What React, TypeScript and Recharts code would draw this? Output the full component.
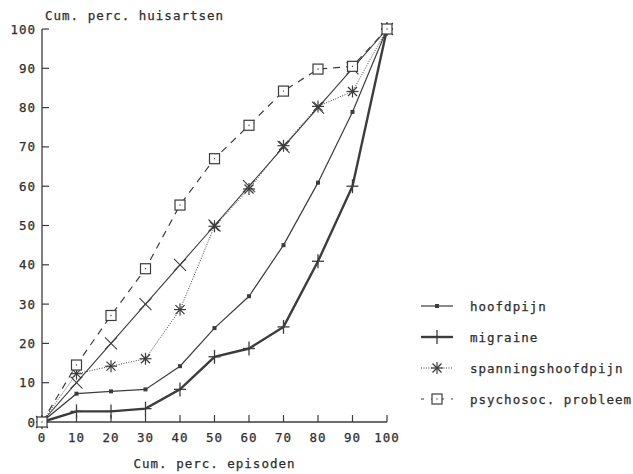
import React from 'react';
import { LineChart, Line, XAxis, YAxis } from 'recharts';

const episoden = [0, 10, 20, 30, 40, 50, 60, 70, 80, 90, 100];
const hoofdpijn = [0, 7.2, 7.8, 8.3, 14.2, 23.9, 32, 45, 60.9, 78.9, 100];
const migraine = [0, 2.7, 2.7, 3.4, 8.3, 16.6, 18.7, 24.2, 40.9, 60, 100];
const spanningshoofdpijn = [0, 12.3, 14.2, 16.1, 28.6, 49.8, 59.3, 70.3, 80.3, 84.1, 100];
const psychosoc = [0, 14.5, 27.1, 39.0, 55.2, 67.0, 75.5, 84.2, 89.8, 90.5, 100];
const gelijk = [0, 10, 20, 30, 40, 50, 60, 70, 80, 90, 100];
const xTicks = [0, 10, 20, 30, 40, 50, 60, 70, 80, 90, 100];
const yTicks = [0, 10, 20, 30, 40, 50, 60, 70, 80, 90, 100];

const data = episoden.map((x, i) => ({
  x,
  hoofdpijn: hoofdpijn[i],
  migraine: migraine[i],
  spanningshoofdpijn: spanningshoofdpijn[i],
  psychosoc: psychosoc[i],
  gelijk: gelijk[i],
}));

const INK = '#3c3c3c';
const TXT = '#2e2e2e';
const FONT = "'DejaVu Sans Mono', monospace";
const textStyle = {
  fontFamily: FONT,
  fontSize: 12.5,
  fill: TXT,
  letterSpacing: 1,
  stroke: TXT,
  strokeWidth: 0.25,
};

type MK = 'dot' | 'plus' | 'star' | 'square' | 'cross';

function Marker({ kind, cx, cy }: { kind: MK; cx: number; cy: number }) {
  if (cx == null || cy == null) return null;
  switch (kind) {
    case 'dot':
      return <rect x={cx - 2} y={cy - 2} width={4} height={4} fill={INK} />;
    case 'plus':
      return (
        <g stroke={INK} strokeWidth={1.3}>
          <line x1={cx - 6} y1={cy} x2={cx + 6} y2={cy} />
          <line x1={cx} y1={cy - 7} x2={cx} y2={cy + 7} />
        </g>
      );
    case 'star':
      return (
        <g stroke={INK} strokeWidth={1.2}>
          <line x1={cx - 6} y1={cy} x2={cx + 6} y2={cy} />
          <line x1={cx} y1={cy - 6} x2={cx} y2={cy + 6} />
          <line x1={cx - 4.5} y1={cy - 4.5} x2={cx + 4.5} y2={cy + 4.5} />
          <line x1={cx - 4.5} y1={cy + 4.5} x2={cx + 4.5} y2={cy - 4.5} />
        </g>
      );
    case 'square':
      return (
        <g>
          <rect x={cx - 5} y={cy - 5} width={10} height={10} fill="#fff" stroke={INK} strokeWidth={1.2} />
          <rect x={cx - 0.6} y={cy - 0.6} width={1.2} height={1.2} fill={INK} />
        </g>
      );
    case 'cross':
      return (
        <g stroke={INK} strokeWidth={1.1}>
          <line x1={cx - 6} y1={cy - 6} x2={cx + 6} y2={cy + 6} />
          <line x1={cx - 6} y1={cy + 6} x2={cx + 6} y2={cy - 6} />
        </g>
      );
  }
  return null;
}

const dotFor = (kind: MK, name: string) => (props: any) => (
  <Marker key={`${name}-${props.index}`} kind={kind} cx={props.cx} cy={props.cy} />
);

const XTick = (props: any) => {
  const { x, y, payload } = props;
  return (
    <g>
      {payload.value !== 0 && <line x1={x} y1={y} x2={x} y2={y - 7} stroke={INK} strokeWidth={1.2} />}
      <text x={x} y={y + 15} textAnchor="middle" dominantBaseline="central" style={textStyle}>
        {payload.value}
      </text>
    </g>
  );
};

const YTick = (props: any) => {
  const { x, y, payload } = props;
  return (
    <g>
      {payload.value !== 0 && <line x1={x} y1={y} x2={x + 7} y2={y} stroke={INK} strokeWidth={1.2} />}
      <text x={x - 6} y={y} textAnchor="end" dominantBaseline="central" style={textStyle}>
        {payload.value}
      </text>
    </g>
  );
};

const legendItems: { label: string; kind: MK; width: number; dash?: string }[] = [
  { label: 'hoofdpijn', kind: 'dot', width: 1.2 },
  { label: 'migraine', kind: 'plus', width: 2.4 },
  { label: 'spanningshoofdpijn', kind: 'star', width: 1, dash: '1 1.5' },
  { label: 'psychosoc. probleem', kind: 'square', width: 1.2, dash: '3 7' },
];

const LegendContent = () => (
  <svg width={220} height={130}>
    {legendItems.map((it, i) => {
      const cy = 15 + i * 31;
      return (
        <g key={it.label}>
          <line x1={0} y1={cy} x2={32} y2={cy} stroke={INK} strokeWidth={it.width} strokeDasharray={it.dash} />
          <Marker kind={it.kind} cx={16} cy={cy} />
          <text x={49} y={cy} dominantBaseline="central" style={textStyle}>
            {it.label}
          </text>
        </g>
      );
    })}
  </svg>
);

export default function App() {
  return (
    <div style={{ position: 'absolute', left: 0, top: 0, width: 633, height: 474, background: '#fff' }}>
      <LineChart width={633} height={474} data={data} margin={{ top: 29, right: 246, left: 0, bottom: 0 }}>
        <XAxis
          dataKey="x"
          type="number"
          domain={[0, 100]}
          ticks={xTicks}
          interval={0}
          height={52}
          tickSize={0}
          tickMargin={0}
          tickLine={false}
          stroke={INK}
          strokeWidth={1.3}
          tick={<XTick />}
          label={{
            value: 'Cum. perc. episoden',
            position: 'insideBottom',
            offset: 6,
            style: { ...textStyle, textAnchor: 'middle' },
          }}
        />
        <YAxis
          type="number"
          domain={[0, 100]}
          ticks={yTicks}
          interval={0}
          width={42}
          tickSize={0}
          tickMargin={0}
          tickLine={false}
          stroke={INK}
          strokeWidth={1.3}
          tick={<YTick />}
          label={{
            content: () => (
              <text x={45} y={15} dominantBaseline="central" style={textStyle}>
                Cum. perc. huisartsen
              </text>
            ),
          }}
        />
        <Line dataKey="gelijk" stroke={INK} strokeWidth={1.1} dot={dotFor('cross', 'gelijk')} isAnimationActive={false} legendType="none" />
        <Line dataKey="hoofdpijn" stroke={INK} strokeWidth={1.2} dot={dotFor('dot', 'hoofdpijn')} isAnimationActive={false} />
        <Line dataKey="migraine" stroke={INK} strokeWidth={2.4} dot={dotFor('plus', 'migraine')} isAnimationActive={false} />
        <Line dataKey="spanningshoofdpijn" stroke={INK} strokeWidth={1} strokeDasharray="1 1.5" dot={dotFor('star', 'spanning')} isAnimationActive={false} />
        <Line dataKey="psychosoc" stroke={INK} strokeWidth={1.2} strokeDasharray="7 6" dot={dotFor('square', 'psychosoc')} isAnimationActive={false} />
      </LineChart>
      <div style={{ position: 'absolute', left: 421, top: 291 }}>
        <LegendContent />
      </div>
    </div>
  );
}
